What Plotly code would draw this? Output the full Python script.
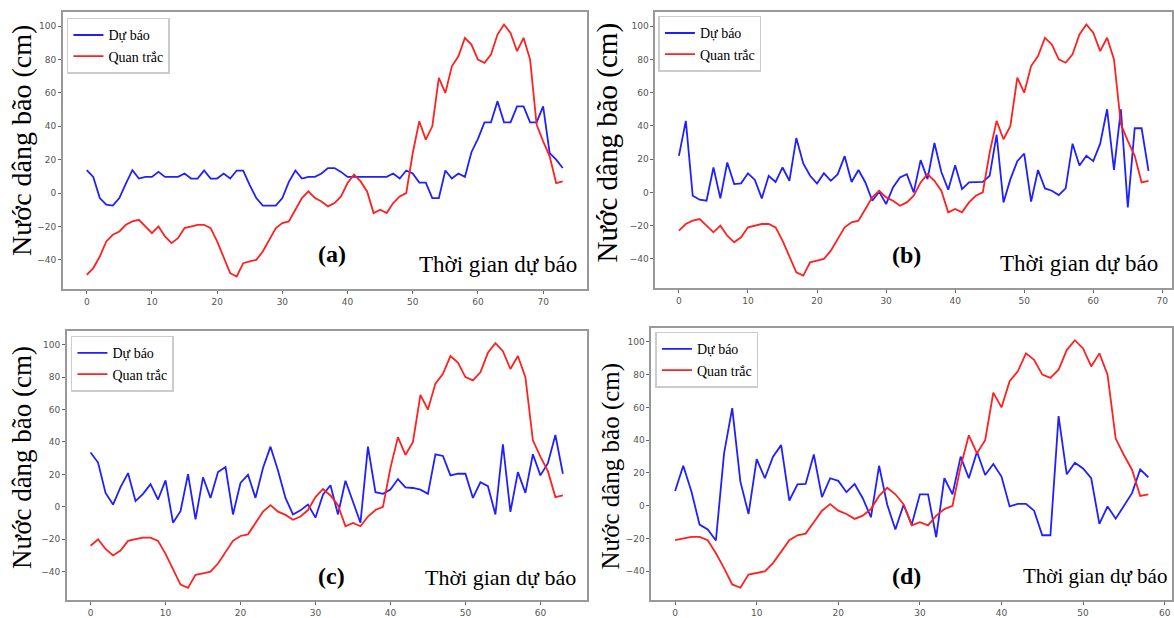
import plotly.graph_objects as go

W, H = 1174, 618

# Observed surge (same record, each panel starts 5 steps later)
observed = [-49, -45, -38, -29, -25, -23, -19, -17, -16, -20,
            -24, -20, -26, -30, -27, -21, -20, -19, -19, -21,
            -29, -38, -48, -50, -42, -41, -40, -35, -28, -21,
            -18, -17, -10, -3, 1, -3, -5, -8, -6, -2,
            6, 11, 7, 1, -12, -10, -12, -6, -2, 0,
            24, 43, 32, 40, 69, 60, 76, 82, 93, 89,
            80, 78, 83, 95, 101, 96, 85, 93, 80, 41,
            31, 22, 6, 7]

forecast_a = [13.7, 9.7, -3, -7, -7.5, -3, 5.7, 13.7, 8.7, 9.7,
              9.7, 12.7, 9.7, 9.7, 9.7, 11.7, 8.7, 8.7, 13.5, 8.7,
              8.7, 11.7, 8.7, 13.5, 13.5, 4.8, -3, -7.5, -7.5, -7.5,
              -3, 6.7, 13.5, 8.7, 9.7, 9.7, 11.7, 15, 15, 12.7,
              9.7, 9.7, 9.7, 9.7, 9.7, 9.7, 9.7, 11.7, 8.7, 13.5,
              11.7, 6.3, 6.3, -3, -3, 13.5, 8.7, 11.7, 9.7, 24.5,
              32.5, 42.4, 42.4, 55, 42.4, 42.4, 52, 52, 42.4, 42.4,
              52, 24, 20, 15]

forecast_b = [22, 43, -2, -4.4, -5, 15, -3.6, 18, 5, 5.5,
              11.5, 7.5, -3.6, 10, 6.3, 15, 7, 32.7, 17.4, 10,
              5.3, 11.5, 7, 11, 21.8, 6.3, 13.5, 6, -5, 0.4,
              -7, 3, 9, 11, 0, 19.4, 8, 29.7, 12.3, 1.6,
              16.4, 2, 6, 6, 6.3, 10, 34.7, -6, 8, 18.8,
              23.4, -5.5, 13.5, 2.4, 1, -1.6, 2.4, 29.3, 16.2, 22,
              18.8, 29.3, 50, 13.5, 50, -9, 38.6, 38.6, 12.9]

forecast_c = [33.5, 27.3, 8.6, 1.4, 12.2, 20.8, 3.5, 8, 14, 4.5,
              16.3, -9.8, -2.7, 20.2, -7.8, 18.2, 5.5, 21.4, 24.5, -4.7,
              14.7, 19.8, 5.5, 23.9, 37.1, 22.4, 5.5, -4.7, -2.2, 1.4,
              -6.7, 7.5, 13.3, -4.7, 16.1, 3.5, -9.8, 37.1, 9, 8,
              10.6, 17.1, 12, 11.6, 10.6, 8, 32.4, 31.4, 19.4, 20.4,
              20.4, 5.5, 15.1, 12.7, -4.7, 38.6, -3.1, 21.4, 8.6, 32.4,
              19.4, 26.9, 44.3, 20.4]

forecast_d = [9, 24.4, 8.7, -11.5, -14.5, -21.2, 32, 59.6, 14.7, -5,
              28.5, 16.8, 30, 37, 3.2, 13.1, 13.3, 31.3, 5.3, 16.8,
              15.2, 8.3, 13.3, 4.6, -7, 24.4, 0.6, -14.5, 0.6, -11.5,
              7, 7, -19.2, 16.8, 7, 30, 16.8, 33, 18.8, 25.5,
              17.8, -0.4, 1.2, 1.2, -3, -18, -18, 54.7, 19.2, 26.3,
              22.8, 16.8, -11.1, -0.4, -7.9, 0.2, 7.7, 22.2, 17.4]

panel_labels = ["(a)", "(b)", "(c)", "(d)"]
series_names = ["Dự báo", "Quan trắc"]
y_title = "Nước dâng bão (cm)"
x_title = "Thời gian dự báo"
x_ticks = [0, 10, 20, 30, 40, 50, 60, 70]
y_ticks = [-40, -20, 0, 20, 40, 60, 80, 100]

forecasts = [forecast_a, forecast_b, forecast_c, forecast_d]
offsets = [0, 5, 10, 15]


def px(x):
    return x / W


def py(y):
    return 1 - y / H


# pixel boxes of each panel: (left, right, top, bottom)
boxes = [(63, 587, 12, 291), (656, 1173, 12, 290),
         (67, 587, 333, 604), (652, 1173, 330, 604)]
legend_pos = [(67, 18), (659, 16), (71, 338), (656, 334)]
ytitle_pos = [(21, 141, 28), (608, 143, 29), (22, 460, 27), (611, 469, 25)]
xtitle_pos = [(498, 266, 23), (1080, 265, 23), (501, 581, 22), (1096, 580, 21)]
label_pos = [(332, 256), (907, 257), (332, 580), (907, 580)]

fig = go.Figure()
layout = dict(width=W, height=H, margin=dict(l=0, r=0, t=0, b=0),
              paper_bgcolor="white", plot_bgcolor="white", annotations=[])

for i in range(4):
    obs = observed[offsets[i]:]
    fc = forecasts[i]
    n = len(obs)
    xs = list(range(n))
    sfx = "" if i == 0 else str(i + 1)
    lg = "legend" if i == 0 else "legend" + str(i + 1)
    fig.add_trace(go.Scatter(x=xs, y=fc, mode="lines", name=series_names[0],
                             line=dict(color="#2020ff", width=1.8),
                             xaxis="x" + sfx, yaxis="y" + sfx, legend=lg))
    fig.add_trace(go.Scatter(x=xs, y=obs, mode="lines", name=series_names[1],
                             line=dict(color="#ff2020", width=1.8),
                             xaxis="x" + sfx, yaxis="y" + sfx, legend=lg))
    allv = obs + fc
    lo, hi = min(allv), max(allv)
    m = 0.05 * (hi - lo)
    xm = 0.05 * (n - 1)
    l, r, t, b = boxes[i]
    axcommon = dict(showline=True, linecolor="#999999", linewidth=2, mirror=True,
                    ticks="outside", ticklen=3, tickcolor="#666666", tickwidth=1,
                    showgrid=False, zeroline=False,
                    tickfont=dict(family="DejaVu Sans", size=9, color="#555555"))
    layout["xaxis" + sfx] = dict(domain=[px(l), px(r)], range=[-xm, n - 1 + xm],
                                 tickvals=x_ticks, anchor="y" + sfx, **axcommon)
    layout["yaxis" + sfx] = dict(domain=[py(b), py(t)], range=[lo - m, hi + m],
                                 tickvals=y_ticks, anchor="x" + sfx, **axcommon)
    lx, ly = legend_pos[i]
    layout[lg] = dict(x=px(lx), y=py(ly), xanchor="left", yanchor="top",
                      xref="paper", yref="paper",
                      bgcolor="white", bordercolor="#cccccc", borderwidth=1.5,
                      font=dict(family="Liberation Serif", size=14, color="black"),
                      tracegroupgap=0, itemwidth=30)
    tx, ty, ts = ytitle_pos[i]
    layout["annotations"].append(dict(text=y_title, x=px(tx), y=py(ty), xref="paper",
                                      yref="paper", showarrow=False, textangle=-90,
                                      xanchor="center", yanchor="middle",
                                      font=dict(family="Liberation Serif", size=ts,
                                                color="black")))
    tx, ty, ts = xtitle_pos[i]
    layout["annotations"].append(dict(text=x_title, x=px(tx), y=py(ty), xref="paper",
                                      yref="paper", showarrow=False,
                                      xanchor="center", yanchor="middle",
                                      font=dict(family="Liberation Serif", size=ts,
                                                color="black")))
    tx, ty = label_pos[i]
    layout["annotations"].append(dict(text="<b>" + panel_labels[i] + "</b>", x=px(tx),
                                      y=py(ty), xref="paper", yref="paper",
                                      showarrow=False, xanchor="center",
                                      yanchor="middle",
                                      font=dict(family="Liberation Serif", size=24,
                                                color="black")))

fig.update_layout(**layout)
fig.write_html("out.html")
